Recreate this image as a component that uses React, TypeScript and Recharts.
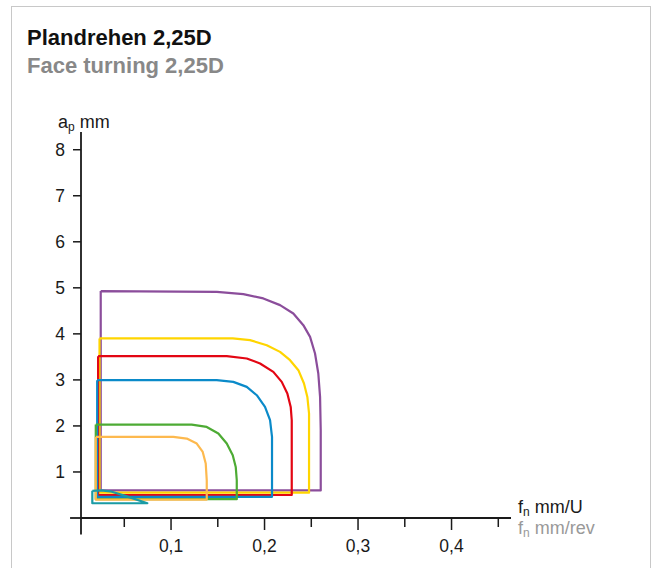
import React from 'react';
import { LineChart, Line, XAxis, YAxis, ReferenceLine } from 'recharts';

// feed f (mm/U) vs depth of cut ap (mm), each field is a closed outline
const purpleField: [number, number][] = [
  [0.0248, 4.93], [0.149, 4.913], [0.1773, 4.863], [0.1987, 4.77], [0.2166, 4.624], [0.2308, 4.443],
  [0.2415, 4.189], [0.2487, 3.935], [0.254, 3.574], [0.2575, 3.139], [0.2594, 2.63], [0.2601, 1.907],
  [0.2601, 0.6], [0.0248, 0.6], [0.0248, 4.93],
];
const yellowField: [number, number][] = [
  [0.0235, 3.9], [0.166, 3.9], [0.1845, 3.863], [0.2024, 3.754], [0.2166, 3.609], [0.2273, 3.428],
  [0.2362, 3.211], [0.2422, 2.922], [0.2458, 2.63], [0.2476, 2.27], [0.2476, 0.55], [0.0235, 0.55], [0.0235, 3.9],
];
const redField: [number, number][] = [
  [0.022, 3.515], [0.1596, 3.515], [0.181, 3.465], [0.1952, 3.357], [0.2094, 3.174], [0.2184, 2.957],
  [0.2244, 2.704], [0.228, 2.413], [0.2291, 2.124], [0.2291, 0.5], [0.022, 0.5], [0.022, 3.515],
];
const blueField: [number, number][] = [
  [0.021, 2.993], [0.1489, 2.993], [0.1666, 2.957], [0.181, 2.848], [0.1917, 2.667], [0.2005, 2.413],
  [0.2059, 2.124], [0.208, 1.761], [0.208, 0.46], [0.021, 0.46], [0.021, 2.993],
];
const greenField: [number, number][] = [
  [0.0195, 2.03], [0.1221, 2.03], [0.1382, 1.978], [0.1506, 1.835], [0.1596, 1.617], [0.166, 1.363],
  [0.1692, 1.109], [0.1703, 0.82], [0.1703, 0.41], [0.0195, 0.41], [0.0195, 2.03],
];
const orangeField: [number, number][] = [
  [0.0195, 1.761], [0.1025, 1.761], [0.1168, 1.726], [0.1275, 1.617], [0.1339, 1.435], [0.1371, 1.183],
  [0.1382, 0.82], [0.1382, 0.4], [0.0195, 0.4], [0.0195, 1.761],
];
const tealField: [number, number][] = [
  [0.0158, 0.59], [0.025, 0.6], [0.035, 0.58], [0.051, 0.48], [0.0747, 0.32], [0.0158, 0.32], [0.0158, 0.59],
];

const fTicks = [0.05, 0.1, 0.15, 0.2, 0.25, 0.3, 0.35, 0.4, 0.45];
const fLabels = ['', '0,1', '', '0,2', '', '0,3', '', '0,4', ''];
const apTicks = [1, 2, 3, 4, 5, 6, 7, 8];

const series = [
  { key: 'purple', pts: purpleField, color: '#8B4D9B' },
  { key: 'yellow', pts: yellowField, color: '#FFD500' },
  { key: 'red', pts: redField, color: '#E30613' },
  { key: 'blue', pts: blueField, color: '#0A8AC9' },
  { key: 'green', pts: greenField, color: '#4DAB34' },
  { key: 'orange', pts: orangeField, color: '#FDB94E' },
  { key: 'teal', pts: tealField, color: '#1A9BA4' },
];

const F_MIN = 0.0037;
const F_MAX = 0.4636;
const AP_MAX = 8.385;
const INK = '#1a1a1a';

const FTick = (props: any) => {
  const { x, y, payload } = props;
  const i = fTicks.indexOf(payload.value);
  const label = fLabels[i] || '';
  return (
    <g>
      <line x1={x} x2={x} y1={y} y2={y + (label ? 12 : 9)} stroke={INK} strokeWidth={1.5} />
      {label && (
        <text x={x} y={y + 34} textAnchor="middle" fontSize={17.5} fill={INK}>
          {label}
        </text>
      )}
    </g>
  );
};

export default function App() {
  return (
    <div
      style={{
        position: 'absolute', left: 0, top: 0, width: 657, height: 568, overflow: 'hidden',
        background: '#fff', fontFamily: '"Liberation Sans", Arial, sans-serif',
      }}
    >
      <div
        style={{
          position: 'absolute', left: 11, top: 6, width: 640, height: 700,
          boxSizing: 'border-box', border: '1px solid #c8c8c8',
        }}
      />
      <div style={{ position: 'absolute', left: 27, top: 25, fontSize: 22, fontWeight: 'bold', color: '#111', lineHeight: '25px' }}>
        Plandrehen 2,25D
      </div>
      <div style={{ position: 'absolute', left: 27, top: 53, fontSize: 22, fontWeight: 'bold', color: '#888', lineHeight: '25px' }}>
        Face turning 2,25D
      </div>
      <div style={{ position: 'absolute', left: 58, top: 112, fontSize: 18, color: INK, lineHeight: '20px' }}>
        a<sub style={{ fontSize: 12, verticalAlign: '-3px' }}>p</sub> mm
      </div>
      <div style={{ position: 'absolute', left: 518, top: 497, fontSize: 18, color: INK, lineHeight: '20px' }}>
        f<sub style={{ fontSize: 12, verticalAlign: '-3px' }}>n</sub> mm/U
      </div>
      <div style={{ position: 'absolute', left: 518, top: 518, fontSize: 18, color: '#999', lineHeight: '20px' }}>
        f<sub style={{ fontSize: 12, verticalAlign: '-3px' }}>n</sub> mm/rev
      </div>
      <div style={{ position: 'absolute', left: 0, top: 0 }}>
        <LineChart width={657} height={568} margin={{ top: 132, right: 146, bottom: 0, left: 0 }}>
          <XAxis
            type="number"
            dataKey="f"
            domain={[F_MIN, F_MAX]}
            allowDataOverflow
            ticks={fTicks}
            tick={<FTick />}
            tickSize={0}
            tickMargin={0}
            tickLine={false}
            axisLine={{ stroke: INK, strokeWidth: 1.8 }}
            height={50}
            interval={0}
          />
          <YAxis
            type="number"
            dataKey="ap"
            domain={[0, AP_MAX]}
            allowDataOverflow
            ticks={apTicks}
            tickSize={8}
            tickMargin={8}
            width={81}
            interval={0}
            tick={{ fill: INK, fontSize: 17.5 }}
            tickLine={{ stroke: INK, strokeWidth: 1.5 }}
            axisLine={{ stroke: INK, strokeWidth: 1.8 }}
          />
          <ReferenceLine
            segment={[{ x: F_MIN, y: 0 }, { x: F_MIN, y: -0.36 }]}
            stroke={INK}
            strokeWidth={1.8}
            ifOverflow="visible"
          />
          <ReferenceLine
            segment={[{ x: -0.008, y: 0 }, { x: F_MIN, y: 0 }]}
            stroke={INK}
            strokeWidth={1.8}
            ifOverflow="visible"
          />
          {series.map((s) => (
            <Line
              key={s.key}
              data={s.pts.map(([f, ap]) => ({ f, ap }))}
              dataKey="ap"
              type="linear"
              stroke={s.color}
              strokeWidth={2.2}
              strokeLinejoin="round"
              dot={false}
              activeDot={false}
              isAnimationActive={false}
            />
          ))}
        </LineChart>
      </div>
    </div>
  );
}
